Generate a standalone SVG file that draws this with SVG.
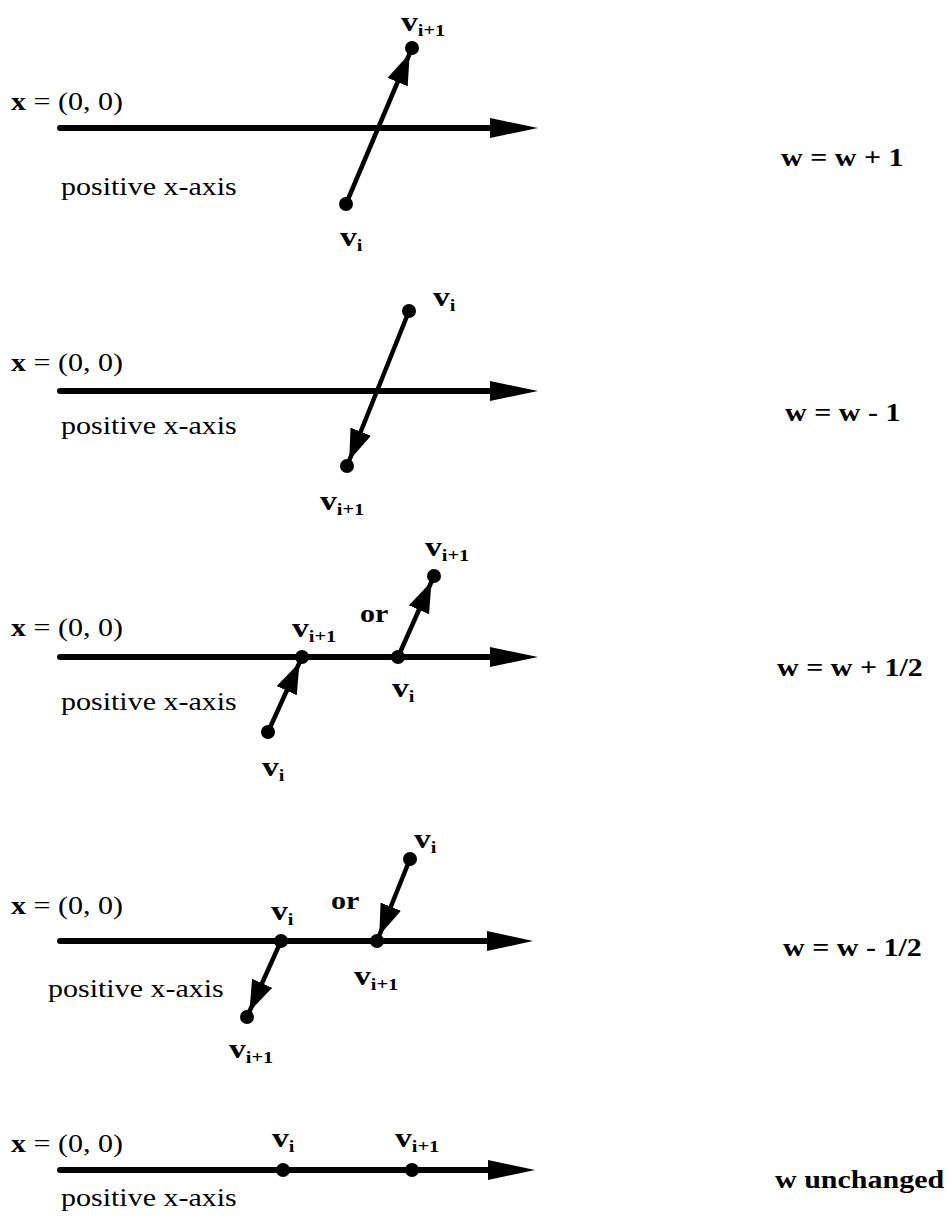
<svg xmlns="http://www.w3.org/2000/svg" width="948" height="1219" viewBox="0 0 948 1219">
<style>
  text { font-family: "Liberation Serif", "Times New Roman", serif; fill: #000; }
  .t { font-size: 25px; }
  .b { font-weight: bold; }
  .lab { font-size: 28px; font-weight: bold; }
  .sub { font-size: 17px; font-weight: bold; }
  .axis { stroke: #000; stroke-width: 6; stroke-linecap: round; fill: none; }
  .vec { stroke: #000; stroke-width: 4.5; fill: none; marker-end: url(#ah); }
  .head { fill: #000; }
  .dot { fill: #000; }
</style>
<defs>
  <marker id="ah" viewBox="0 0 37 22" refX="37" refY="11" markerWidth="37" markerHeight="22" orient="auto" markerUnits="userSpaceOnUse">
    <path d="M0,0 L31,11 L0,22 z" fill="#000"/>
  </marker>
</defs>
<rect width="948" height="1219" fill="#fff"/>

<!-- Panel 1 -->
<g id="panel1">
  <g id="p1-connectors">
    <line class="axis" x1="60" y1="128" x2="495" y2="128"/>
    <polygon class="head" points="490,118 538,128 490,138"/>
    <line class="vec" x1="346" y1="204" x2="412" y2="48"/>
  </g>
  <g id="p1-origin"><text class="t" transform="translate(11,110) scale(1.2,1)"><tspan class="b">x</tspan> = (0, 0)</text></g>
  <g id="p1-axislabel"><text class="t" transform="translate(61,195) scale(1.2,1)">positive x-axis</text></g>
  <g id="p1-vi"><circle class="dot" cx="346" cy="204" r="7"/><text class="lab" transform="translate(340,246) scale(1.2,1)">v<tspan class="sub" dy="5">i</tspan></text></g>
  <g id="p1-vi1"><circle class="dot" cx="412" cy="48" r="7"/><text class="lab" transform="translate(401,31) scale(1.2,1)">v<tspan class="sub" dy="5">i+1</tspan></text></g>
  <g id="p1-rule"><text class="t b" transform="translate(781,166) scale(1.2,1)">w = w + 1</text></g>
</g>

<!-- Panel 2 -->
<g id="panel2">
  <g id="p2-connectors">
    <line class="axis" x1="60" y1="391" x2="495" y2="391"/>
    <polygon class="head" points="490,381 538,391 490,401"/>
    <line class="vec" x1="409" y1="311" x2="347" y2="466"/>
  </g>
  <g id="p2-origin"><text class="t" transform="translate(11,371) scale(1.2,1)"><tspan class="b">x</tspan> = (0, 0)</text></g>
  <g id="p2-axislabel"><text class="t" transform="translate(61,434) scale(1.2,1)">positive x-axis</text></g>
  <g id="p2-vi"><circle class="dot" cx="409" cy="311" r="7"/><text class="lab" transform="translate(433,306) scale(1.2,1)">v<tspan class="sub" dy="5">i</tspan></text></g>
  <g id="p2-vi1"><circle class="dot" cx="347" cy="466" r="7"/><text class="lab" transform="translate(320,510) scale(1.2,1)">v<tspan class="sub" dy="5">i+1</tspan></text></g>
  <g id="p2-rule"><text class="t b" transform="translate(785,421) scale(1.2,1)">w = w - 1</text></g>
</g>

<!-- Panel 3 -->
<g id="panel3">
  <g id="p3-connectors">
    <line class="axis" x1="60" y1="657" x2="495" y2="657"/>
    <polygon class="head" points="490,647 538,657 490,667"/>
    <line class="vec" x1="268" y1="732" x2="302" y2="657"/>
    <line class="vec" x1="398" y1="657" x2="434" y2="576"/>
  </g>
  <g id="p3-origin"><text class="t" transform="translate(11,636) scale(1.2,1)"><tspan class="b">x</tspan> = (0, 0)</text></g>
  <g id="p3-axislabel"><text class="t" transform="translate(61,710) scale(1.2,1)">positive x-axis</text></g>
  <g id="p3-a-vi"><circle class="dot" cx="268" cy="732" r="7"/><text class="lab" transform="translate(262,776) scale(1.2,1)">v<tspan class="sub" dy="5">i</tspan></text></g>
  <g id="p3-a-vi1"><circle class="dot" cx="302" cy="657" r="7"/><text class="lab" transform="translate(292,637) scale(1.2,1)">v<tspan class="sub" dy="5">i+1</tspan></text></g>
  <g id="p3-or"><text class="t b" transform="translate(360,622) scale(1.2,1)">or</text></g>
  <g id="p3-b-vi"><circle class="dot" cx="398" cy="657" r="7"/><text class="lab" transform="translate(392,697) scale(1.2,1)">v<tspan class="sub" dy="5">i</tspan></text></g>
  <g id="p3-b-vi1"><circle class="dot" cx="434" cy="576" r="7"/><text class="lab" transform="translate(425,556) scale(1.2,1)">v<tspan class="sub" dy="5">i+1</tspan></text></g>
  <g id="p3-rule"><text class="t b" transform="translate(777,676) scale(1.2,1)">w = w + 1/2</text></g>
</g>

<!-- Panel 4 -->
<g id="panel4">
  <g id="p4-connectors">
    <line class="axis" x1="60" y1="941" x2="490" y2="941"/>
    <polygon class="head" points="487,931 533,941 487,951"/>
    <line class="vec" x1="281" y1="941" x2="247" y2="1017"/>
    <line class="vec" x1="410" y1="859" x2="377" y2="941"/>
  </g>
  <g id="p4-origin"><text class="t" transform="translate(11,914) scale(1.2,1)"><tspan class="b">x</tspan> = (0, 0)</text></g>
  <g id="p4-axislabel"><text class="t" transform="translate(48,997) scale(1.2,1)">positive x-axis</text></g>
  <g id="p4-a-vi"><circle class="dot" cx="281" cy="941" r="7"/><text class="lab" transform="translate(271,920) scale(1.2,1)">v<tspan class="sub" dy="5">i</tspan></text></g>
  <g id="p4-a-vi1"><circle class="dot" cx="247" cy="1017" r="7"/><text class="lab" transform="translate(229,1058) scale(1.2,1)">v<tspan class="sub" dy="5">i+1</tspan></text></g>
  <g id="p4-or"><text class="t b" transform="translate(331,909) scale(1.2,1)">or</text></g>
  <g id="p4-b-vi"><circle class="dot" cx="410" cy="859" r="7"/><text class="lab" transform="translate(414,848) scale(1.2,1)">v<tspan class="sub" dy="5">i</tspan></text></g>
  <g id="p4-b-vi1"><circle class="dot" cx="377" cy="941" r="7"/><text class="lab" transform="translate(354,985) scale(1.2,1)">v<tspan class="sub" dy="5">i+1</tspan></text></g>
  <g id="p4-rule"><text class="t b" transform="translate(783,956) scale(1.2,1)">w = w - 1/2</text></g>
</g>

<!-- Panel 5 -->
<g id="panel5">
  <g id="p5-connectors">
    <line class="axis" x1="60" y1="1170" x2="492" y2="1170"/>
    <polygon class="head" points="488,1160 535,1170 488,1180"/>
  </g>
  <g id="p5-origin"><text class="t" transform="translate(11,1152) scale(1.2,1)"><tspan class="b">x</tspan> = (0, 0)</text></g>
  <g id="p5-axislabel"><text class="t" transform="translate(61,1206) scale(1.2,1)">positive x-axis</text></g>
  <g id="p5-vi"><circle class="dot" cx="283" cy="1170" r="7"/><text class="lab" transform="translate(272,1147) scale(1.2,1)">v<tspan class="sub" dy="5">i</tspan></text></g>
  <g id="p5-vi1"><circle class="dot" cx="412" cy="1170" r="7"/><text class="lab" transform="translate(395,1147) scale(1.2,1)">v<tspan class="sub" dy="5">i+1</tspan></text></g>
  <g id="p5-rule"><text class="t b" transform="translate(775,1188) scale(1.2,1)">w unchanged</text></g>
</g>
</svg>
